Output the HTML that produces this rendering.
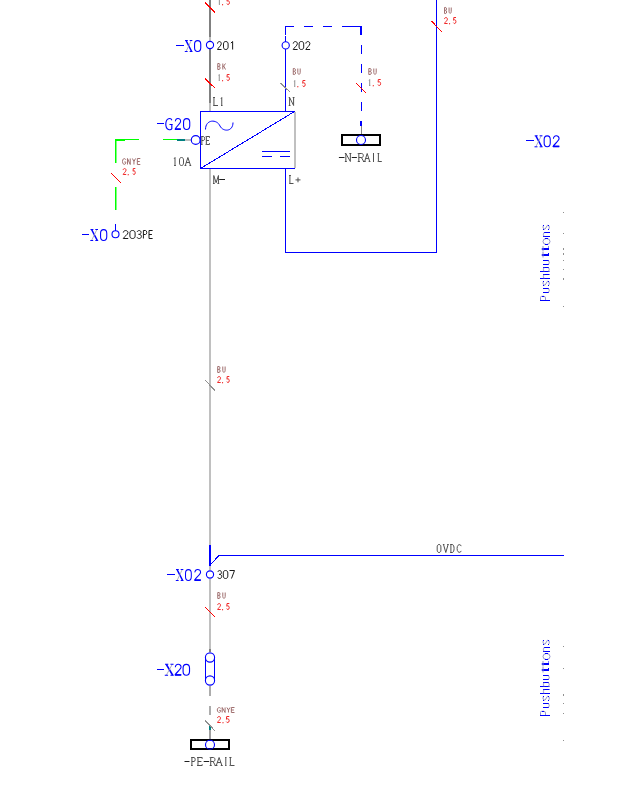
<!DOCTYPE html><html><head><meta charset="utf-8"><style>html,body{margin:0;padding:0;background:#fff;width:640px;height:792px;overflow:hidden}svg{display:block}text{white-space:pre}</style></head><body>
<svg width="640" height="792" viewBox="0 0 640 792">
<g fill="none" shape-rendering="crispEdges">
<!-- main vertical line -->
<line x1="210" y1="0" x2="210" y2="37" stroke="#808080" stroke-width="2"/>
<line x1="210" y1="37" x2="210" y2="41" stroke="#c0c0c0" stroke-width="2"/>
<line x1="210" y1="49" x2="210" y2="103" stroke="#808080" stroke-width="2"/>
<line x1="210" y1="103" x2="210" y2="111" stroke="#c0c0c0" stroke-width="2"/>
<line x1="210" y1="169" x2="210" y2="545" stroke="#c0c0c0" stroke-width="2"/>
<line x1="210" y1="545" x2="210" y2="566" stroke="#0000ff" stroke-width="2"/>
<line x1="210" y1="566" x2="210" y2="570" stroke="#c0c0c0" stroke-width="2"/>
<line x1="210" y1="579" x2="210" y2="649" stroke="#c0c0c0" stroke-width="2"/>
<line x1="210" y1="649" x2="210" y2="652" stroke="#808080" stroke-width="2"/>
<line x1="210" y1="686" x2="210" y2="696" stroke="#909090" stroke-width="1.5" shape-rendering="auto"/>
<line x1="210" y1="706" x2="210" y2="715" stroke="#909090" stroke-width="1.5" shape-rendering="auto"/>
<line x1="210" y1="725" x2="210" y2="730" stroke="#008080" stroke-width="2"/>
<line x1="210" y1="730" x2="210" y2="739" stroke="#a0a0a0" stroke-width="2"/>
<!-- box -->
<rect x="200.5" y="111.5" width="94" height="57" stroke="#0000ff" stroke-width="1"/>
<line x1="295" y1="112" x2="295" y2="168" stroke="#c0c0c0" stroke-width="2"/>
<!-- blue 202 line -->
<line x1="285.5" y1="49" x2="285.5" y2="111" stroke="#0000ff" stroke-width="1"/>
<line x1="285.5" y1="36" x2="285.5" y2="42" stroke="#0000ff" stroke-width="1"/>
<polyline points="285.5,169 285.5,252.5 436.5,252.5 436.5,0" stroke="#0000ff" stroke-width="1"/>
<!-- dashed -->
<polyline points="285.5,35 285.5,26.5 294,26.5" stroke="#0000ff" stroke-width="1"/>
<line x1="304" y1="26.5" x2="313" y2="26.5" stroke="#0000ff" stroke-width="1"/>
<line x1="323" y1="26.5" x2="332" y2="26.5" stroke="#0000ff" stroke-width="1"/>
<line x1="342" y1="26.5" x2="362" y2="26.5" stroke="#0000ff" stroke-width="1"/>
<line x1="361" y1="26" x2="361" y2="35" stroke="#0000ff" stroke-width="2"/>
<line x1="361.5" y1="45" x2="361.5" y2="54" stroke="#0000ff" stroke-width="1"/>
<line x1="361.5" y1="64" x2="361.5" y2="73" stroke="#0000ff" stroke-width="1"/>
<line x1="361.5" y1="83" x2="361.5" y2="92" stroke="#0000ff" stroke-width="1"/>
<line x1="361.5" y1="102" x2="361.5" y2="111" stroke="#0000ff" stroke-width="1"/>
<line x1="361" y1="121" x2="361" y2="126" stroke="#0000ff" stroke-width="2"/>
<line x1="361.5" y1="126" x2="361.5" y2="135" stroke="#808080" stroke-width="1"/>
<!-- N rail -->
<rect x="342" y="135" width="38" height="9.5" stroke="#000" stroke-width="2"/>
<!-- PE rail -->
<rect x="191.3" y="739.8" width="38" height="9" stroke="#000" stroke-width="2"/>
<!-- PE line -->
<line x1="163" y1="139.5" x2="177" y2="139.5" stroke="#00ff00" stroke-width="1"/>
<line x1="177" y1="140" x2="185" y2="140" stroke="#008080" stroke-width="2"/>
<line x1="185" y1="140" x2="191" y2="140" stroke="#c0c0c0" stroke-width="2"/>
<!-- green L -->
<line x1="115" y1="140" x2="125" y2="140" stroke="#00ff00" stroke-width="2"/><line x1="125" y1="139.5" x2="138.5" y2="139.5" stroke="#00ff00" stroke-width="1"/><rect x="115" y="139" width="1.5" height="24" fill="#00ff00" stroke="none" shape-rendering="auto"/>
<rect x="115" y="187" width="1.5" height="23" fill="#00ff00" stroke="none" shape-rendering="auto"/>
<line x1="115.5" y1="224" x2="115.5" y2="231" stroke="#0000ff" stroke-width="1"/>
<!-- DC symbol -->
<line x1="262" y1="151.5" x2="290" y2="151.5" stroke="#0000ff" stroke-width="1"/>
<line x1="262" y1="156.5" x2="272" y2="156.5" stroke="#0000ff" stroke-width="1"/>
<line x1="280" y1="156.5" x2="290" y2="156.5" stroke="#0000ff" stroke-width="1"/>
<!-- 0VDC -->
<line x1="219" y1="555.5" x2="564" y2="555.5" stroke="#0000ff" stroke-width="1"/>
<!-- X20 capsule lines -->
<line x1="205.5" y1="657.5" x2="205.5" y2="680.5" stroke="#0000ff" stroke-width="1"/>
<line x1="214.5" y1="657.5" x2="214.5" y2="680.5" stroke="#0000ff" stroke-width="1"/>
</g>
<g fill="none">
<!-- diagonal -->
<line x1="200.5" y1="168.5" x2="294.5" y2="111.5" stroke="#0000ff" stroke-width="1" shape-rendering="crispEdges"/>
<line x1="211" y1="564" x2="219" y2="555.5" stroke="#0000ff" stroke-width="1" shape-rendering="crispEdges"/>
<!-- sine -->
<path d="M205.5,129.5 C205.5,119 217,119 220,126 C223,132 233,132 233,122.5" stroke="#0000ff" stroke-width="1"/>
<!-- circles -->
<circle cx="210" cy="45" r="3.6" stroke="#0000ff" stroke-width="1.1"/>
<circle cx="285.7" cy="45.4" r="3.6" stroke="#0000ff" stroke-width="1.1"/>
<circle cx="195.7" cy="140" r="4.4" stroke="#0000ff" stroke-width="1.1"/>
<circle cx="361" cy="140" r="4.5" stroke="#0000ff" stroke-width="1.1"/>
<circle cx="115.5" cy="234.3" r="3.5" stroke="#0000ff" stroke-width="1.1"/>
<circle cx="210" cy="574.5" r="3.6" stroke="#0000ff" stroke-width="1.1"/>
<circle cx="210" cy="657.5" r="4.6" stroke="#0000ff" stroke-width="1.1"/>
<circle cx="210" cy="680.5" r="4.6" stroke="#0000ff" stroke-width="1.1"/>
<circle cx="210" cy="744.8" r="4.5" stroke="#0000ff" stroke-width="1.1"/>
<!-- slashes -->
<g shape-rendering="crispEdges" stroke-width="1.2">
<line x1="205" y1="2.5" x2="215" y2="12.5" stroke="#ff0000"/>
<line x1="205" y1="78.5" x2="215" y2="88" stroke="#ff0000"/>
<line x1="280.5" y1="83" x2="290.5" y2="92.5" stroke="#909090"/>
<line x1="356" y1="83" x2="366" y2="93" stroke="#ff0000"/>
<line x1="431.3" y1="21" x2="441.5" y2="31.6" stroke="#ff0000"/>
<line x1="111" y1="173" x2="120.6" y2="182.5" stroke="#ff0000"/>
<line x1="205.2" y1="380" x2="215" y2="390.5" stroke="#909090"/>
<line x1="205" y1="607" x2="215" y2="617" stroke="#ff0000"/>
<line x1="205.2" y1="720.3" x2="214.8" y2="730.9" stroke="#909090"/>
</g>
</g>

<g fill="#909090">
<rect x="563" y="212" width="1" height="1"/><rect x="563" y="233" width="1" height="1"/><rect x="563" y="248" width="1" height="2"/><rect x="563" y="253" width="1" height="2"/><rect x="563" y="260" width="1" height="1"/><rect x="563" y="269" width="1" height="1"/><rect x="563" y="278" width="1" height="2"/><rect x="563" y="306" width="1" height="1"/>
<rect x="563" y="646" width="1" height="1"/><rect x="563" y="668" width="1" height="1"/><rect x="563" y="694" width="1" height="2"/><rect x="563" y="703" width="1" height="1"/><rect x="563" y="713" width="1" height="1"/><rect x="563" y="740" width="1" height="1"/>
</g>

<g transform="translate(185.00,40.00) scale(0.938,1.000)" fill="none" stroke="#0000ff"><path d="M1.2,0.6 L7,11.4" stroke-width="1.5"/><path d="M6.6,0.6 L1.2,11.4" stroke-width="0.8" stroke="#a0a0b0"/><path d="M0,0.5 H3 M5,0.5 H7.8 M-0.2,11.5 H2.8 M5,11.5 H8" stroke-width="1"/></g>
<g transform="translate(194.00,40.00) scale(0.938,1.000)" fill="none" stroke="#0000ff"><path d="M3.9,0.55 C6.4,0.55 7.2,2.2 7.2,4.2 V7.8 C7.2,9.8 6.4,11.45 3.9,11.45 C1.4,11.45 0.6,9.8 0.6,7.8 V4.2 C0.6,2.2 1.4,0.55 3.9,0.55 Z" stroke-width="1.15"/></g>
<line x1="176" y1="45.5" x2="184" y2="45.5" stroke="#0000ff" stroke-width="1" shape-rendering="crispEdges"/>
<g transform="translate(165.00,118.00) scale(0.975,1.000)" fill="none" stroke="#0000ff"><path d="M7,2.2 C6.2,-0.3 1,-0.6 0.8,6 C0.8,12.6 6,12.4 7,10.6 V6.6 M4.6,6.5 H7.9" stroke-width="1.15"/></g>
<g transform="translate(174.50,118.00) scale(0.875,1.000)" fill="none" stroke="#0000ff"><path d="M1,3.4 C0.8,-0.3 7,-0.6 7,3.3 C7,5.6 2,8.6 0.8,11 L7.2,11" stroke-width="1.15"/><path d="M0.6,11.2 H7.2" stroke-width="1.6"/></g>
<g transform="translate(183.00,118.00) scale(0.938,1.000)" fill="none" stroke="#0000ff"><path d="M3.9,0.55 C6.4,0.55 7.2,2.2 7.2,4.2 V7.8 C7.2,9.8 6.4,11.45 3.9,11.45 C1.4,11.45 0.6,9.8 0.6,7.8 V4.2 C0.6,2.2 1.4,0.55 3.9,0.55 Z" stroke-width="1.15"/></g>
<line x1="156.6" y1="123.5" x2="163.6" y2="123.5" stroke="#0000ff" stroke-width="1" shape-rendering="crispEdges"/>
<g transform="translate(90.50,229.00) scale(0.963,1.000)" fill="none" stroke="#0000ff"><path d="M1.2,0.6 L7,11.4" stroke-width="1.5"/><path d="M6.6,0.6 L1.2,11.4" stroke-width="0.8" stroke="#a0a0b0"/><path d="M0,0.5 H3 M5,0.5 H7.8 M-0.2,11.5 H2.8 M5,11.5 H8" stroke-width="1"/></g>
<g transform="translate(100.00,229.00) scale(0.938,1.000)" fill="none" stroke="#0000ff"><path d="M3.9,0.55 C6.4,0.55 7.2,2.2 7.2,4.2 V7.8 C7.2,9.8 6.4,11.45 3.9,11.45 C1.4,11.45 0.6,9.8 0.6,7.8 V4.2 C0.6,2.2 1.4,0.55 3.9,0.55 Z" stroke-width="1.15"/></g>
<line x1="81.7" y1="234.5" x2="88.75" y2="234.5" stroke="#0000ff" stroke-width="1" shape-rendering="crispEdges"/>
<g transform="translate(534.70,135.30) scale(0.987,1.000)" fill="none" stroke="#0000ff"><path d="M1.2,0.6 L7,11.4" stroke-width="1.5"/><path d="M6.6,0.6 L1.2,11.4" stroke-width="0.8" stroke="#a0a0b0"/><path d="M0,0.5 H3 M5,0.5 H7.8 M-0.2,11.5 H2.8 M5,11.5 H8" stroke-width="1"/></g>
<g transform="translate(543.60,135.30) scale(0.925,1.000)" fill="none" stroke="#0000ff"><path d="M3.9,0.55 C6.4,0.55 7.2,2.2 7.2,4.2 V7.8 C7.2,9.8 6.4,11.45 3.9,11.45 C1.4,11.45 0.6,9.8 0.6,7.8 V4.2 C0.6,2.2 1.4,0.55 3.9,0.55 Z" stroke-width="1.15"/></g>
<g transform="translate(552.50,135.30) scale(0.938,1.000)" fill="none" stroke="#0000ff"><path d="M1,3.4 C0.8,-0.3 7,-0.6 7,3.3 C7,5.6 2,8.6 0.8,11 L7.2,11" stroke-width="1.15"/><path d="M0.6,11.2 H7.2" stroke-width="1.6"/></g>
<line x1="526" y1="140.5" x2="533.7" y2="140.5" stroke="#0000ff" stroke-width="1" shape-rendering="crispEdges"/>
<g transform="translate(176.00,569.00) scale(0.938,1.000)" fill="none" stroke="#0000ff"><path d="M1.2,0.6 L7,11.4" stroke-width="1.5"/><path d="M6.6,0.6 L1.2,11.4" stroke-width="0.8" stroke="#a0a0b0"/><path d="M0,0.5 H3 M5,0.5 H7.8 M-0.2,11.5 H2.8 M5,11.5 H8" stroke-width="1"/></g>
<g transform="translate(185.00,569.00) scale(0.875,1.000)" fill="none" stroke="#0000ff"><path d="M3.9,0.55 C6.4,0.55 7.2,2.2 7.2,4.2 V7.8 C7.2,9.8 6.4,11.45 3.9,11.45 C1.4,11.45 0.6,9.8 0.6,7.8 V4.2 C0.6,2.2 1.4,0.55 3.9,0.55 Z" stroke-width="1.15"/></g>
<g transform="translate(194.00,569.00) scale(0.938,1.000)" fill="none" stroke="#0000ff"><path d="M1,3.4 C0.8,-0.3 7,-0.6 7,3.3 C7,5.6 2,8.6 0.8,11 L7.2,11" stroke-width="1.15"/><path d="M0.6,11.2 H7.2" stroke-width="1.6"/></g>
<line x1="166.8" y1="574.5" x2="175" y2="574.5" stroke="#0000ff" stroke-width="1" shape-rendering="crispEdges"/>
<g transform="translate(165.00,663.80) scale(1.094,1.000)" fill="none" stroke="#0000ff"><path d="M1.2,0.6 L7,11.4" stroke-width="1.5"/><path d="M6.6,0.6 L1.2,11.4" stroke-width="0.8" stroke="#a0a0b0"/><path d="M0,0.5 H3 M5,0.5 H7.8 M-0.2,11.5 H2.8 M5,11.5 H8" stroke-width="1"/></g>
<g transform="translate(174.40,663.80) scale(0.950,1.000)" fill="none" stroke="#0000ff"><path d="M1,3.4 C0.8,-0.3 7,-0.6 7,3.3 C7,5.6 2,8.6 0.8,11 L7.2,11" stroke-width="1.15"/><path d="M0.6,11.2 H7.2" stroke-width="1.6"/></g>
<g transform="translate(182.50,663.80) scale(0.975,1.000)" fill="none" stroke="#0000ff"><path d="M3.9,0.55 C6.4,0.55 7.2,2.2 7.2,4.2 V7.8 C7.2,9.8 6.4,11.45 3.9,11.45 C1.4,11.45 0.6,9.8 0.6,7.8 V4.2 C0.6,2.2 1.4,0.55 3.9,0.55 Z" stroke-width="1.15"/></g>
<line x1="156.9" y1="669.5" x2="163.75" y2="669.5" stroke="#0000ff" stroke-width="1" shape-rendering="crispEdges"/>
<g transform="translate(0,0)" shape-rendering="auto"><rect x="540" y="300" width="10" height="1" fill="#0000ff"/><path d="M540.5,300 V297.5 Q540.5,296.3 541.8,296.3 H543.8 Q545.5,296.3 545.5,298 V300" stroke="#8a8ac8" stroke-width="0.9" fill="none"/><rect x="542" y="296" width="2" height="1" fill="#0000ff"/><rect x="543" y="292" width="6" height="1" fill="#0000ff"/><rect x="543" y="288" width="6" height="1" fill="#0000ff"/><path d="M548.5,292.5 Q550,290.5 548.5,288.5" stroke="#8a8ac8" stroke-width="0.9" fill="none"/><path d="M544,281.2 Q543,281.2 543,283.2 Q543,285.2 545,285.2 L547.5,281.2 Q549.3,281.2 549.3,283.2 Q549.3,285.2 548.5,285.2" stroke="#8a8ac8" stroke-width="0.9" fill="none"/><rect x="543" y="281" width="1" height="1" fill="#0000ff"/><rect x="548" y="281" width="1" height="1" fill="#0000ff"/><rect x="543" y="285" width="1" height="1" fill="#0000ff"/><rect x="548" y="285" width="1" height="1" fill="#0000ff"/><rect x="540" y="278" width="10" height="1" fill="#0000ff"/><rect x="543" y="274" width="6.5" height="1" fill="#0000ff"/><path d="M544,278.5 Q542.8,276.5 544,274.5" stroke="#8a8ac8" stroke-width="0.9" fill="none"/><rect x="540" y="271" width="9.5" height="1" fill="#0000ff"/><rect x="543" y="267" width="6" height="1" fill="#0000ff"/><path d="M544,271.5 Q542.8,269.5 544,267.5" stroke="#8a8ac8" stroke-width="0.9" fill="none"/><path d="M548.5,271.5 Q550,269.5 548.5,267.5" stroke="#8a8ac8" stroke-width="0.9" fill="none"/><rect x="543" y="264" width="6" height="1" fill="#0000ff"/><rect x="543" y="260" width="6" height="1" fill="#0000ff"/><path d="M548.5,264.5 Q550,262.5 548.5,260.5" stroke="#8a8ac8" stroke-width="0.9" fill="none"/><rect x="541.8" y="254" width="7.2" height="2" fill="#0000ff"/><path d="M543,252 V257.5" stroke="#8a8ac8" stroke-width="0.9" fill="none"/><rect x="548" y="253" width="1" height="1" fill="#0000ff"/><rect x="541.8" y="248" width="7.2" height="2" fill="#0000ff"/><path d="M543,246 V251.5" stroke="#8a8ac8" stroke-width="0.9" fill="none"/><rect x="548" y="246.5" width="1" height="1" fill="#0000ff"/><path d="M546.5,238.5 Q543,238.5 543,241.5 Q543,244.5 546.5,244.5 Q550,244.5 550,241.5 Q550,238.5 546.5,238.5" stroke="#8a8ac8" stroke-width="0.9" fill="none"/><rect x="545" y="238" width="3" height="1" fill="#0000ff"/><rect x="545" y="244" width="3" height="1" fill="#0000ff"/><rect x="543" y="236" width="7" height="1" fill="#0000ff"/><rect x="544" y="232" width="6" height="1" fill="#0000ff"/><path d="M544,236.5 Q542.8,234.5 544,232.5" stroke="#8a8ac8" stroke-width="0.9" fill="none"/><path d="M544,225.2 Q543,225.2 543,227.2 Q543,229.2 545,229.2 L547.5,225.2 Q549.3,225.2 549.3,227.2 Q549.3,229.2 548.5,229.2" stroke="#8a8ac8" stroke-width="0.9" fill="none"/><rect x="543" y="225" width="1" height="1" fill="#0000ff"/><rect x="548" y="225" width="1" height="1" fill="#0000ff"/><rect x="543" y="229" width="1" height="1" fill="#0000ff"/><rect x="548" y="229" width="1" height="1" fill="#0000ff"/></g><g transform="translate(0,415)" shape-rendering="auto"><rect x="540" y="300" width="10" height="1" fill="#0000ff"/><path d="M540.5,300 V297.5 Q540.5,296.3 541.8,296.3 H543.8 Q545.5,296.3 545.5,298 V300" stroke="#8a8ac8" stroke-width="0.9" fill="none"/><rect x="542" y="296" width="2" height="1" fill="#0000ff"/><rect x="543" y="292" width="6" height="1" fill="#0000ff"/><rect x="543" y="288" width="6" height="1" fill="#0000ff"/><path d="M548.5,292.5 Q550,290.5 548.5,288.5" stroke="#8a8ac8" stroke-width="0.9" fill="none"/><path d="M544,281.2 Q543,281.2 543,283.2 Q543,285.2 545,285.2 L547.5,281.2 Q549.3,281.2 549.3,283.2 Q549.3,285.2 548.5,285.2" stroke="#8a8ac8" stroke-width="0.9" fill="none"/><rect x="543" y="281" width="1" height="1" fill="#0000ff"/><rect x="548" y="281" width="1" height="1" fill="#0000ff"/><rect x="543" y="285" width="1" height="1" fill="#0000ff"/><rect x="548" y="285" width="1" height="1" fill="#0000ff"/><rect x="540" y="278" width="10" height="1" fill="#0000ff"/><rect x="543" y="274" width="6.5" height="1" fill="#0000ff"/><path d="M544,278.5 Q542.8,276.5 544,274.5" stroke="#8a8ac8" stroke-width="0.9" fill="none"/><rect x="540" y="271" width="9.5" height="1" fill="#0000ff"/><rect x="543" y="267" width="6" height="1" fill="#0000ff"/><path d="M544,271.5 Q542.8,269.5 544,267.5" stroke="#8a8ac8" stroke-width="0.9" fill="none"/><path d="M548.5,271.5 Q550,269.5 548.5,267.5" stroke="#8a8ac8" stroke-width="0.9" fill="none"/><rect x="543" y="264" width="6" height="1" fill="#0000ff"/><rect x="543" y="260" width="6" height="1" fill="#0000ff"/><path d="M548.5,264.5 Q550,262.5 548.5,260.5" stroke="#8a8ac8" stroke-width="0.9" fill="none"/><rect x="541.8" y="254" width="7.2" height="2" fill="#0000ff"/><path d="M543,252 V257.5" stroke="#8a8ac8" stroke-width="0.9" fill="none"/><rect x="548" y="253" width="1" height="1" fill="#0000ff"/><rect x="541.8" y="248" width="7.2" height="2" fill="#0000ff"/><path d="M543,246 V251.5" stroke="#8a8ac8" stroke-width="0.9" fill="none"/><rect x="548" y="246.5" width="1" height="1" fill="#0000ff"/><path d="M546.5,238.5 Q543,238.5 543,241.5 Q543,244.5 546.5,244.5 Q550,244.5 550,241.5 Q550,238.5 546.5,238.5" stroke="#8a8ac8" stroke-width="0.9" fill="none"/><rect x="545" y="238" width="3" height="1" fill="#0000ff"/><rect x="545" y="244" width="3" height="1" fill="#0000ff"/><rect x="543" y="236" width="7" height="1" fill="#0000ff"/><rect x="544" y="232" width="6" height="1" fill="#0000ff"/><path d="M544,236.5 Q542.8,234.5 544,232.5" stroke="#8a8ac8" stroke-width="0.9" fill="none"/><path d="M544,225.2 Q543,225.2 543,227.2 Q543,229.2 545,229.2 L547.5,225.2 Q549.3,225.2 549.3,227.2 Q549.3,229.2 548.5,229.2" stroke="#8a8ac8" stroke-width="0.9" fill="none"/><rect x="543" y="225" width="1" height="1" fill="#0000ff"/><rect x="548" y="225" width="1" height="1" fill="#0000ff"/><rect x="543" y="229" width="1" height="1" fill="#0000ff"/><rect x="548" y="229" width="1" height="1" fill="#0000ff"/></g>
<g transform="translate(213.50,97.50) scale(0.7500,0.8000)" stroke="#505050" stroke-width="1.0" fill="none" vector-effect="non-scaling-stroke" style="vector-effect:non-scaling-stroke"><path vector-effect="non-scaling-stroke" d="M0.6,0 V10 H6"/><path vector-effect="non-scaling-stroke" d="M-0.3,0 H1.8"/><path vector-effect="non-scaling-stroke" d="M-0.4,0 H1.8"/><path vector-effect="non-scaling-stroke" d="M-0.4,10 H0.6"/></g><g transform="translate(220.50,97.50) scale(0.4167,0.8000)" stroke="#505050" stroke-width="1.0" fill="none" vector-effect="non-scaling-stroke" style="vector-effect:non-scaling-stroke"><path vector-effect="non-scaling-stroke" d="M3,0 V10"/><path vector-effect="non-scaling-stroke" d="M1.2,10 H4.8"/><path vector-effect="non-scaling-stroke" d="M3,0 L1.3,1.6"/></g>
<g transform="translate(289.20,97.50) scale(0.8000,0.8000)" stroke="#505050" stroke-width="1.0" fill="none" vector-effect="non-scaling-stroke" style="vector-effect:non-scaling-stroke"><path vector-effect="non-scaling-stroke" d="M0.5,10 V0 L5.5,10 V0"/><path vector-effect="non-scaling-stroke" d="M-0.6,0 H0.8"/><path vector-effect="non-scaling-stroke" d="M-0.6,10 H1.6"/><path vector-effect="non-scaling-stroke" d="M4.4,0 H6.6"/></g>
<g transform="translate(173.50,157.50) scale(0.5000,0.8000)" stroke="#505050" stroke-width="1.0" fill="none" vector-effect="non-scaling-stroke" style="vector-effect:non-scaling-stroke"><path vector-effect="non-scaling-stroke" d="M3,0 V10"/><path vector-effect="non-scaling-stroke" d="M1.2,10 H4.8"/><path vector-effect="non-scaling-stroke" d="M3,0 L1.3,1.6"/></g><g transform="translate(179.50,157.50) scale(0.6667,0.8000)" stroke="#505050" stroke-width="1.0" fill="none" vector-effect="non-scaling-stroke" style="vector-effect:non-scaling-stroke"><path vector-effect="non-scaling-stroke" d="M3,0 C5.4,0 6,1.6 6,3.2 V6.8 C6,8.4 5.4,10 3,10 C0.6,10 0,8.4 0,6.8 V3.2 C0,1.6 0.6,0 3,0 Z"/></g><g transform="translate(185.30,157.50) scale(0.8667,0.8000)" stroke="#505050" stroke-width="1.0" fill="none" vector-effect="non-scaling-stroke" style="vector-effect:non-scaling-stroke"><path vector-effect="non-scaling-stroke" d="M0,10 L3,0 L6,10"/><path vector-effect="non-scaling-stroke" d="M1.1,6.3 H4.9"/><path vector-effect="non-scaling-stroke" d="M-0.8,10 H1.2"/><path vector-effect="non-scaling-stroke" d="M4.8,10 H6.8"/></g>
<g transform="translate(213.50,175.50) scale(0.8667,0.8000)" stroke="#505050" stroke-width="1.0" fill="none" vector-effect="non-scaling-stroke" style="vector-effect:non-scaling-stroke"><path vector-effect="non-scaling-stroke" d="M0.3,10 V0 L3,9 L5.7,0 V10"/><path vector-effect="non-scaling-stroke" d="M-0.6,10 H1.4"/><path vector-effect="non-scaling-stroke" d="M4.6,10 H6.6"/></g><line x1="219.20" y1="179.5" x2="225.00" y2="179.5" stroke="#202020" stroke-width="1"/>
<g transform="translate(289.50,175.50) scale(0.6667,0.8000)" stroke="#505050" stroke-width="1.0" fill="none" vector-effect="non-scaling-stroke" style="vector-effect:non-scaling-stroke"><path vector-effect="non-scaling-stroke" d="M0.6,0 V10 H6"/><path vector-effect="non-scaling-stroke" d="M-0.3,0 H1.8"/><path vector-effect="non-scaling-stroke" d="M-0.4,0 H1.8"/><path vector-effect="non-scaling-stroke" d="M-0.4,10 H0.6"/></g><g transform="translate(295.50,175.50) scale(0.8333,0.8000)" stroke="#505050" stroke-width="1.0" fill="none" vector-effect="non-scaling-stroke" style="vector-effect:non-scaling-stroke"><path vector-effect="non-scaling-stroke" d="M0,5.5 H6"/><path vector-effect="non-scaling-stroke" d="M3,2.5 V8.5"/></g>
<g transform="translate(201.50,136.50) scale(0.5500,0.8000)" stroke="#505050" stroke-width="1.0" fill="none" vector-effect="non-scaling-stroke" style="vector-effect:non-scaling-stroke"><path vector-effect="non-scaling-stroke" d="M0.6,10 V0 H3.8 C6.2,0 6.2,5 3.8,5 H0.6"/><path vector-effect="non-scaling-stroke" d="M-0.6,10 H1.8"/><path vector-effect="non-scaling-stroke" d="M-0.6,0 H0.6"/></g><g transform="translate(206.00,136.50) scale(0.5833,0.8000)" stroke="#505050" stroke-width="1.0" fill="none" vector-effect="non-scaling-stroke" style="vector-effect:non-scaling-stroke"><path vector-effect="non-scaling-stroke" d="M6,0 H0.6 V10 H6"/><path vector-effect="non-scaling-stroke" d="M0.6,5 H5"/><path vector-effect="non-scaling-stroke" d="M6,0 V1.6"/><path vector-effect="non-scaling-stroke" d="M6,10 V8.4"/><path vector-effect="non-scaling-stroke" d="M-0.6,0 H0.6"/><path vector-effect="non-scaling-stroke" d="M-0.6,10 H0.6"/></g>
<line x1="338.90" y1="157.5" x2="344.50" y2="157.5" stroke="#202020" stroke-width="1"/><g transform="translate(345.40,153.50) scale(0.9000,0.8000)" stroke="#505050" stroke-width="1.0" fill="none" vector-effect="non-scaling-stroke" style="vector-effect:non-scaling-stroke"><path vector-effect="non-scaling-stroke" d="M0.5,10 V0 L5.5,10 V0"/><path vector-effect="non-scaling-stroke" d="M-0.6,0 H0.8"/><path vector-effect="non-scaling-stroke" d="M-0.6,10 H1.6"/><path vector-effect="non-scaling-stroke" d="M4.4,0 H6.6"/></g><line x1="351.75" y1="157.5" x2="356.90" y2="157.5" stroke="#202020" stroke-width="1"/><g transform="translate(358.30,153.50) scale(0.9000,0.8000)" stroke="#505050" stroke-width="1.0" fill="none" vector-effect="non-scaling-stroke" style="vector-effect:non-scaling-stroke"><path vector-effect="non-scaling-stroke" d="M0.6,10 V0 H3.8 C6.2,0 6.2,5 3.8,5 H0.6"/><path vector-effect="non-scaling-stroke" d="M3.4,5 L6,10"/><path vector-effect="non-scaling-stroke" d="M-0.6,10 H1.8"/><path vector-effect="non-scaling-stroke" d="M-0.6,0 H0.6"/><path vector-effect="non-scaling-stroke" d="M5.2,10 H6.8"/></g><g transform="translate(364.70,153.50) scale(0.8333,0.8000)" stroke="#505050" stroke-width="1.0" fill="none" vector-effect="non-scaling-stroke" style="vector-effect:non-scaling-stroke"><path vector-effect="non-scaling-stroke" d="M0,10 L3,0 L6,10"/><path vector-effect="non-scaling-stroke" d="M1.1,6.3 H4.9"/><path vector-effect="non-scaling-stroke" d="M-0.8,10 H1.2"/><path vector-effect="non-scaling-stroke" d="M4.8,10 H6.8"/></g><g transform="translate(372.50,153.50) scale(0.3333,0.8000)" stroke="#505050" stroke-width="1.0" fill="none" vector-effect="non-scaling-stroke" style="vector-effect:non-scaling-stroke"><path vector-effect="non-scaling-stroke" d="M3,0 V10"/><path vector-effect="non-scaling-stroke" d="M1.5,0 H4.5"/><path vector-effect="non-scaling-stroke" d="M1.5,10 H4.5"/></g><g transform="translate(378.00,153.50) scale(0.6333,0.8000)" stroke="#505050" stroke-width="1.0" fill="none" vector-effect="non-scaling-stroke" style="vector-effect:non-scaling-stroke"><path vector-effect="non-scaling-stroke" d="M0.6,0 V10 H6"/><path vector-effect="non-scaling-stroke" d="M-0.3,0 H1.8"/><path vector-effect="non-scaling-stroke" d="M-0.4,0 H1.8"/><path vector-effect="non-scaling-stroke" d="M-0.4,10 H0.6"/></g>
<line x1="184.50" y1="761.5" x2="189.50" y2="761.5" stroke="#202020" stroke-width="1"/><g transform="translate(191.50,757.50) scale(0.6667,0.8000)" stroke="#505050" stroke-width="1.0" fill="none" vector-effect="non-scaling-stroke" style="vector-effect:non-scaling-stroke"><path vector-effect="non-scaling-stroke" d="M0.6,10 V0 H3.8 C6.2,0 6.2,5 3.8,5 H0.6"/><path vector-effect="non-scaling-stroke" d="M-0.6,10 H1.8"/><path vector-effect="non-scaling-stroke" d="M-0.6,0 H0.6"/></g><g transform="translate(197.50,757.50) scale(0.7833,0.8000)" stroke="#505050" stroke-width="1.0" fill="none" vector-effect="non-scaling-stroke" style="vector-effect:non-scaling-stroke"><path vector-effect="non-scaling-stroke" d="M6,0 H0.6 V10 H6"/><path vector-effect="non-scaling-stroke" d="M0.6,5 H5"/><path vector-effect="non-scaling-stroke" d="M6,0 V1.6"/><path vector-effect="non-scaling-stroke" d="M6,10 V8.4"/><path vector-effect="non-scaling-stroke" d="M-0.6,0 H0.6"/><path vector-effect="non-scaling-stroke" d="M-0.6,10 H0.6"/></g><line x1="203.70" y1="761.5" x2="209.20" y2="761.5" stroke="#202020" stroke-width="1"/><g transform="translate(210.20,757.50) scale(0.8500,0.8000)" stroke="#505050" stroke-width="1.0" fill="none" vector-effect="non-scaling-stroke" style="vector-effect:non-scaling-stroke"><path vector-effect="non-scaling-stroke" d="M0.6,10 V0 H3.8 C6.2,0 6.2,5 3.8,5 H0.6"/><path vector-effect="non-scaling-stroke" d="M3.4,5 L6,10"/><path vector-effect="non-scaling-stroke" d="M-0.6,10 H1.8"/><path vector-effect="non-scaling-stroke" d="M-0.6,0 H0.6"/><path vector-effect="non-scaling-stroke" d="M5.2,10 H6.8"/></g><g transform="translate(216.30,757.50) scale(0.9333,0.8000)" stroke="#505050" stroke-width="1.0" fill="none" vector-effect="non-scaling-stroke" style="vector-effect:non-scaling-stroke"><path vector-effect="non-scaling-stroke" d="M0,10 L3,0 L6,10"/><path vector-effect="non-scaling-stroke" d="M1.1,6.3 H4.9"/><path vector-effect="non-scaling-stroke" d="M-0.8,10 H1.2"/><path vector-effect="non-scaling-stroke" d="M4.8,10 H6.8"/></g><g transform="translate(224.50,757.50) scale(0.4333,0.8000)" stroke="#505050" stroke-width="1.0" fill="none" vector-effect="non-scaling-stroke" style="vector-effect:non-scaling-stroke"><path vector-effect="non-scaling-stroke" d="M3,0 V10"/><path vector-effect="non-scaling-stroke" d="M1.5,0 H4.5"/><path vector-effect="non-scaling-stroke" d="M1.5,10 H4.5"/></g><g transform="translate(229.90,757.50) scale(0.7667,0.8000)" stroke="#505050" stroke-width="1.0" fill="none" vector-effect="non-scaling-stroke" style="vector-effect:non-scaling-stroke"><path vector-effect="non-scaling-stroke" d="M0.6,0 V10 H6"/><path vector-effect="non-scaling-stroke" d="M-0.3,0 H1.8"/><path vector-effect="non-scaling-stroke" d="M-0.4,0 H1.8"/><path vector-effect="non-scaling-stroke" d="M-0.4,10 H0.6"/></g>
<g transform="translate(437.20,544.50) scale(0.6167,0.8000)" stroke="#505050" stroke-width="1.0" fill="none" vector-effect="non-scaling-stroke" style="vector-effect:non-scaling-stroke"><path vector-effect="non-scaling-stroke" d="M3,0 C5.4,0 6,1.6 6,3.2 V6.8 C6,8.4 5.4,10 3,10 C0.6,10 0,8.4 0,6.8 V3.2 C0,1.6 0.6,0 3,0 Z"/></g><g transform="translate(443.50,544.50) scale(0.7667,0.8000)" stroke="#505050" stroke-width="1.0" fill="none" vector-effect="non-scaling-stroke" style="vector-effect:non-scaling-stroke"><path vector-effect="non-scaling-stroke" d="M0,0 L3,10 L6,0"/><path vector-effect="non-scaling-stroke" d="M-0.8,0 H1.2"/><path vector-effect="non-scaling-stroke" d="M4.8,0 H6.8"/></g><g transform="translate(450.50,544.50) scale(0.6667,0.8000)" stroke="#505050" stroke-width="1.0" fill="none" vector-effect="non-scaling-stroke" style="vector-effect:non-scaling-stroke"><path vector-effect="non-scaling-stroke" d="M0.6,0 V10 H2.6 C6.3,10 6.3,0 2.6,0 Z"/><path vector-effect="non-scaling-stroke" d="M-0.6,0 H0.6"/><path vector-effect="non-scaling-stroke" d="M-0.6,10 H0.6"/></g><g transform="translate(457.10,544.50) scale(0.6833,0.8000)" stroke="#505050" stroke-width="1.0" fill="none" vector-effect="non-scaling-stroke" style="vector-effect:non-scaling-stroke"><path vector-effect="non-scaling-stroke" d="M6,2 C5.2,-0.6 0,-1 0,5 C0,11 5.2,10.6 6,8"/></g>
<g transform="translate(217.50,63.50) scale(0.4667,0.6000)" stroke="#a07070" stroke-width="1.0" fill="none" vector-effect="non-scaling-stroke" style="vector-effect:non-scaling-stroke"><path vector-effect="non-scaling-stroke" d="M0.6,10 V0 H3.6 C5.8,0 5.8,4.8 3.6,4.8 H0.6"/><path vector-effect="non-scaling-stroke" d="M3.6,4.8 C6.2,4.8 6.2,10 3.6,10 H0.6"/></g><g transform="translate(222.50,63.50) scale(0.5000,0.6000)" stroke="#a07070" stroke-width="1.0" fill="none" vector-effect="non-scaling-stroke" style="vector-effect:non-scaling-stroke"><path vector-effect="non-scaling-stroke" d="M0.6,0 V10"/><path vector-effect="non-scaling-stroke" d="M6,0 L0.6,6.2"/><path vector-effect="non-scaling-stroke" d="M2.4,4.2 L6,10"/></g>
<g transform="translate(218.50,74.50) scale(0.2500,0.6000)" stroke="#909090" stroke-width="1.0" fill="none" vector-effect="non-scaling-stroke" style="vector-effect:non-scaling-stroke"><path vector-effect="non-scaling-stroke" d="M3,0 V10"/><path vector-effect="non-scaling-stroke" d="M1.2,10 H4.8"/><path vector-effect="non-scaling-stroke" d="M3,0 L1.3,1.6"/></g><g transform="translate(222.50,74.50) scale(0.0833,0.6000)" stroke="#f02828" stroke-width="1.0" fill="none" vector-effect="non-scaling-stroke" style="vector-effect:non-scaling-stroke"><path vector-effect="non-scaling-stroke" d="M1.6,9.2 L0.8,11.4"/></g><g transform="translate(226.70,74.50) scale(0.5000,0.6000)" stroke="#f02828" stroke-width="1.0" fill="none" vector-effect="non-scaling-stroke" style="vector-effect:non-scaling-stroke"><path vector-effect="non-scaling-stroke" d="M5.6,0 H1 L0.6,4.6 C1.4,4 2.2,3.8 3,3.8 C6.3,3.8 6.3,10 3,10 C1.6,10 0.7,9.4 0.3,8.6"/></g>
<g transform="translate(218.70,-1.50) scale(0.2167,0.6000)" stroke="#909090" stroke-width="1.0" fill="none" vector-effect="non-scaling-stroke" style="vector-effect:non-scaling-stroke"><path vector-effect="non-scaling-stroke" d="M3,0 V10"/><path vector-effect="non-scaling-stroke" d="M1.2,10 H4.8"/><path vector-effect="non-scaling-stroke" d="M3,0 L1.3,1.6"/></g><g transform="translate(222.50,-1.50) scale(0.0833,0.6000)" stroke="#f02828" stroke-width="1.0" fill="none" vector-effect="non-scaling-stroke" style="vector-effect:non-scaling-stroke"><path vector-effect="non-scaling-stroke" d="M1.6,9.2 L0.8,11.4"/></g><g transform="translate(226.70,-1.50) scale(0.5000,0.6000)" stroke="#f02828" stroke-width="1.0" fill="none" vector-effect="non-scaling-stroke" style="vector-effect:non-scaling-stroke"><path vector-effect="non-scaling-stroke" d="M5.6,0 H1 L0.6,4.6 C1.4,4 2.2,3.8 3,3.8 C6.3,3.8 6.3,10 3,10 C1.6,10 0.7,9.4 0.3,8.6"/></g>
<g transform="translate(293.00,68.50) scale(0.4500,0.6000)" stroke="#a07070" stroke-width="1.0" fill="none" vector-effect="non-scaling-stroke" style="vector-effect:non-scaling-stroke"><path vector-effect="non-scaling-stroke" d="M0.6,10 V0 H3.6 C5.8,0 5.8,4.8 3.6,4.8 H0.6"/><path vector-effect="non-scaling-stroke" d="M3.6,4.8 C6.2,4.8 6.2,10 3.6,10 H0.6"/></g><g transform="translate(297.50,68.50) scale(0.5000,0.6000)" stroke="#a07070" stroke-width="1.0" fill="none" vector-effect="non-scaling-stroke" style="vector-effect:non-scaling-stroke"><path vector-effect="non-scaling-stroke" d="M0.6,0 V6.8 C0.6,10.6 5.4,10.6 5.4,6.8 V0"/></g>
<g transform="translate(294.00,80.50) scale(0.2500,0.6000)" stroke="#909090" stroke-width="1.0" fill="none" vector-effect="non-scaling-stroke" style="vector-effect:non-scaling-stroke"><path vector-effect="non-scaling-stroke" d="M3,0 V10"/><path vector-effect="non-scaling-stroke" d="M1.2,10 H4.8"/><path vector-effect="non-scaling-stroke" d="M3,0 L1.3,1.6"/></g><g transform="translate(297.70,80.50) scale(0.1000,0.6000)" stroke="#f02828" stroke-width="1.0" fill="none" vector-effect="non-scaling-stroke" style="vector-effect:non-scaling-stroke"><path vector-effect="non-scaling-stroke" d="M1.6,9.2 L0.8,11.4"/></g><g transform="translate(302.40,80.50) scale(0.5167,0.6000)" stroke="#f02828" stroke-width="1.0" fill="none" vector-effect="non-scaling-stroke" style="vector-effect:non-scaling-stroke"><path vector-effect="non-scaling-stroke" d="M5.6,0 H1 L0.6,4.6 C1.4,4 2.2,3.8 3,3.8 C6.3,3.8 6.3,10 3,10 C1.6,10 0.7,9.4 0.3,8.6"/></g>
<g transform="translate(368.50,68.50) scale(0.5000,0.6000)" stroke="#a07070" stroke-width="1.0" fill="none" vector-effect="non-scaling-stroke" style="vector-effect:non-scaling-stroke"><path vector-effect="non-scaling-stroke" d="M0.6,10 V0 H3.6 C5.8,0 5.8,4.8 3.6,4.8 H0.6"/><path vector-effect="non-scaling-stroke" d="M3.6,4.8 C6.2,4.8 6.2,10 3.6,10 H0.6"/></g><g transform="translate(373.50,68.50) scale(0.5000,0.6000)" stroke="#a07070" stroke-width="1.0" fill="none" vector-effect="non-scaling-stroke" style="vector-effect:non-scaling-stroke"><path vector-effect="non-scaling-stroke" d="M0.6,0 V6.8 C0.6,10.6 5.4,10.6 5.4,6.8 V0"/></g>
<g transform="translate(368.70,79.50) scale(0.3333,0.6000)" stroke="#909090" stroke-width="1.0" fill="none" vector-effect="non-scaling-stroke" style="vector-effect:non-scaling-stroke"><path vector-effect="non-scaling-stroke" d="M3,0 V10"/><path vector-effect="non-scaling-stroke" d="M1.2,10 H4.8"/><path vector-effect="non-scaling-stroke" d="M3,0 L1.3,1.6"/></g><g transform="translate(373.10,79.50) scale(0.1500,0.6000)" stroke="#f02828" stroke-width="1.0" fill="none" vector-effect="non-scaling-stroke" style="vector-effect:non-scaling-stroke"><path vector-effect="non-scaling-stroke" d="M1.6,9.2 L0.8,11.4"/></g><g transform="translate(377.80,79.50) scale(0.5167,0.6000)" stroke="#f02828" stroke-width="1.0" fill="none" vector-effect="non-scaling-stroke" style="vector-effect:non-scaling-stroke"><path vector-effect="non-scaling-stroke" d="M5.6,0 H1 L0.6,4.6 C1.4,4 2.2,3.8 3,3.8 C6.3,3.8 6.3,10 3,10 C1.6,10 0.7,9.4 0.3,8.6"/></g>
<g transform="translate(444.30,7.50) scale(0.4167,0.6000)" stroke="#a07070" stroke-width="1.0" fill="none" vector-effect="non-scaling-stroke" style="vector-effect:non-scaling-stroke"><path vector-effect="non-scaling-stroke" d="M0.6,10 V0 H3.6 C5.8,0 5.8,4.8 3.6,4.8 H0.6"/><path vector-effect="non-scaling-stroke" d="M3.6,4.8 C6.2,4.8 6.2,10 3.6,10 H0.6"/></g><g transform="translate(448.80,7.50) scale(0.4500,0.6000)" stroke="#a07070" stroke-width="1.0" fill="none" vector-effect="non-scaling-stroke" style="vector-effect:non-scaling-stroke"><path vector-effect="non-scaling-stroke" d="M0.6,0 V6.8 C0.6,10.6 5.4,10.6 5.4,6.8 V0"/></g>
<g transform="translate(444.30,17.50) scale(0.5500,0.6000)" stroke="#f02828" stroke-width="1.0" fill="none" vector-effect="non-scaling-stroke" style="vector-effect:non-scaling-stroke"><path vector-effect="non-scaling-stroke" d="M0.3,2.6 C0.5,-0.8 5.7,-0.8 5.7,2.8 C5.7,5 1,8 0.3,10 H6"/></g><g transform="translate(449.50,17.50) scale(0.0833,0.6000)" stroke="#f02828" stroke-width="1.0" fill="none" vector-effect="non-scaling-stroke" style="vector-effect:non-scaling-stroke"><path vector-effect="non-scaling-stroke" d="M1.6,9.2 L0.8,11.4"/></g><g transform="translate(453.30,17.50) scale(0.4833,0.6000)" stroke="#f02828" stroke-width="1.0" fill="none" vector-effect="non-scaling-stroke" style="vector-effect:non-scaling-stroke"><path vector-effect="non-scaling-stroke" d="M5.6,0 H1 L0.6,4.6 C1.4,4 2.2,3.8 3,3.8 C6.3,3.8 6.3,10 3,10 C1.6,10 0.7,9.4 0.3,8.6"/></g>
<g transform="translate(122.50,158.50) scale(0.5333,0.6000)" stroke="#a07070" stroke-width="1.0" fill="none" vector-effect="non-scaling-stroke" style="vector-effect:non-scaling-stroke"><path vector-effect="non-scaling-stroke" d="M6,2 C5.2,-0.6 0,-1 0,5 C0,11 6,11 6,7 V5.8 H3.4"/></g><g transform="translate(127.20,158.50) scale(0.5500,0.6000)" stroke="#a07070" stroke-width="1.0" fill="none" vector-effect="non-scaling-stroke" style="vector-effect:non-scaling-stroke"><path vector-effect="non-scaling-stroke" d="M0.5,10 V0 L5.5,10 V0"/></g><g transform="translate(132.40,158.50) scale(0.5167,0.6000)" stroke="#a07070" stroke-width="1.0" fill="none" vector-effect="non-scaling-stroke" style="vector-effect:non-scaling-stroke"><path vector-effect="non-scaling-stroke" d="M0,0 L3,5 L6,0"/><path vector-effect="non-scaling-stroke" d="M3,5 V10"/></g><g transform="translate(137.00,158.50) scale(0.5500,0.6000)" stroke="#a07070" stroke-width="1.0" fill="none" vector-effect="non-scaling-stroke" style="vector-effect:non-scaling-stroke"><path vector-effect="non-scaling-stroke" d="M6,0 H0.6 V10 H6"/><path vector-effect="non-scaling-stroke" d="M0.6,5 H5"/></g>
<g transform="translate(123.00,168.50) scale(0.5333,0.6000)" stroke="#f02828" stroke-width="1.0" fill="none" vector-effect="non-scaling-stroke" style="vector-effect:non-scaling-stroke"><path vector-effect="non-scaling-stroke" d="M0.3,2.6 C0.5,-0.8 5.7,-0.8 5.7,2.8 C5.7,5 1,8 0.3,10 H6"/></g><g transform="translate(128.10,168.50) scale(0.1000,0.6000)" stroke="#f02828" stroke-width="1.0" fill="none" vector-effect="non-scaling-stroke" style="vector-effect:non-scaling-stroke"><path vector-effect="non-scaling-stroke" d="M1.6,9.2 L0.8,11.4"/></g><g transform="translate(132.80,168.50) scale(0.4500,0.6000)" stroke="#f02828" stroke-width="1.0" fill="none" vector-effect="non-scaling-stroke" style="vector-effect:non-scaling-stroke"><path vector-effect="non-scaling-stroke" d="M5.6,0 H1 L0.6,4.6 C1.4,4 2.2,3.8 3,3.8 C6.3,3.8 6.3,10 3,10 C1.6,10 0.7,9.4 0.3,8.6"/></g>
<g transform="translate(217.40,366.50) scale(0.4833,0.6000)" stroke="#a07070" stroke-width="1.0" fill="none" vector-effect="non-scaling-stroke" style="vector-effect:non-scaling-stroke"><path vector-effect="non-scaling-stroke" d="M0.6,10 V0 H3.6 C5.8,0 5.8,4.8 3.6,4.8 H0.6"/><path vector-effect="non-scaling-stroke" d="M3.6,4.8 C6.2,4.8 6.2,10 3.6,10 H0.6"/></g><g transform="translate(222.50,366.50) scale(0.4833,0.6000)" stroke="#a07070" stroke-width="1.0" fill="none" vector-effect="non-scaling-stroke" style="vector-effect:non-scaling-stroke"><path vector-effect="non-scaling-stroke" d="M0.6,0 V6.8 C0.6,10.6 5.4,10.6 5.4,6.8 V0"/></g>
<g transform="translate(217.40,376.50) scale(0.5500,0.6000)" stroke="#f02828" stroke-width="1.0" fill="none" vector-effect="non-scaling-stroke" style="vector-effect:non-scaling-stroke"><path vector-effect="non-scaling-stroke" d="M0.3,2.6 C0.5,-0.8 5.7,-0.8 5.7,2.8 C5.7,5 1,8 0.3,10 H6"/></g><g transform="translate(222.50,376.50) scale(0.0667,0.6000)" stroke="#f02828" stroke-width="1.0" fill="none" vector-effect="non-scaling-stroke" style="vector-effect:non-scaling-stroke"><path vector-effect="non-scaling-stroke" d="M1.6,9.2 L0.8,11.4"/></g><g transform="translate(226.70,376.50) scale(0.4667,0.6000)" stroke="#f02828" stroke-width="1.0" fill="none" vector-effect="non-scaling-stroke" style="vector-effect:non-scaling-stroke"><path vector-effect="non-scaling-stroke" d="M5.6,0 H1 L0.6,4.6 C1.4,4 2.2,3.8 3,3.8 C6.3,3.8 6.3,10 3,10 C1.6,10 0.7,9.4 0.3,8.6"/></g>
<g transform="translate(217.50,592.50) scale(0.4667,0.6000)" stroke="#a07070" stroke-width="1.0" fill="none" vector-effect="non-scaling-stroke" style="vector-effect:non-scaling-stroke"><path vector-effect="non-scaling-stroke" d="M0.6,10 V0 H3.6 C5.8,0 5.8,4.8 3.6,4.8 H0.6"/><path vector-effect="non-scaling-stroke" d="M3.6,4.8 C6.2,4.8 6.2,10 3.6,10 H0.6"/></g><g transform="translate(222.50,592.50) scale(0.5000,0.6000)" stroke="#a07070" stroke-width="1.0" fill="none" vector-effect="non-scaling-stroke" style="vector-effect:non-scaling-stroke"><path vector-effect="non-scaling-stroke" d="M0.6,0 V6.8 C0.6,10.6 5.4,10.6 5.4,6.8 V0"/></g>
<g transform="translate(217.50,603.50) scale(0.5333,0.6000)" stroke="#f02828" stroke-width="1.0" fill="none" vector-effect="non-scaling-stroke" style="vector-effect:non-scaling-stroke"><path vector-effect="non-scaling-stroke" d="M0.3,2.6 C0.5,-0.8 5.7,-0.8 5.7,2.8 C5.7,5 1,8 0.3,10 H6"/></g><g transform="translate(222.50,603.50) scale(0.0667,0.6000)" stroke="#f02828" stroke-width="1.0" fill="none" vector-effect="non-scaling-stroke" style="vector-effect:non-scaling-stroke"><path vector-effect="non-scaling-stroke" d="M1.6,9.2 L0.8,11.4"/></g><g transform="translate(226.50,603.50) scale(0.5000,0.6000)" stroke="#f02828" stroke-width="1.0" fill="none" vector-effect="non-scaling-stroke" style="vector-effect:non-scaling-stroke"><path vector-effect="non-scaling-stroke" d="M5.6,0 H1 L0.6,4.6 C1.4,4 2.2,3.8 3,3.8 C6.3,3.8 6.3,10 3,10 C1.6,10 0.7,9.4 0.3,8.6"/></g>
<g transform="translate(217.30,707.50) scale(0.5667,0.5000)" stroke="#a07070" stroke-width="1.0" fill="none" vector-effect="non-scaling-stroke" style="vector-effect:non-scaling-stroke"><path vector-effect="non-scaling-stroke" d="M6,2 C5.2,-0.6 0,-1 0,5 C0,11 6,11 6,7 V5.8 H3.4"/></g><g transform="translate(221.90,707.50) scale(0.5833,0.5000)" stroke="#a07070" stroke-width="1.0" fill="none" vector-effect="non-scaling-stroke" style="vector-effect:non-scaling-stroke"><path vector-effect="non-scaling-stroke" d="M0.5,10 V0 L5.5,10 V0"/></g><g transform="translate(226.90,707.50) scale(0.5167,0.5000)" stroke="#a07070" stroke-width="1.0" fill="none" vector-effect="non-scaling-stroke" style="vector-effect:non-scaling-stroke"><path vector-effect="non-scaling-stroke" d="M0,0 L3,5 L6,0"/><path vector-effect="non-scaling-stroke" d="M3,5 V10"/></g><g transform="translate(231.00,707.50) scale(0.5833,0.5000)" stroke="#a07070" stroke-width="1.0" fill="none" vector-effect="non-scaling-stroke" style="vector-effect:non-scaling-stroke"><path vector-effect="non-scaling-stroke" d="M6,0 H0.6 V10 H6"/><path vector-effect="non-scaling-stroke" d="M0.6,5 H5"/></g>
<g transform="translate(217.30,716.50) scale(0.5667,0.6000)" stroke="#f02828" stroke-width="1.0" fill="none" vector-effect="non-scaling-stroke" style="vector-effect:non-scaling-stroke"><path vector-effect="non-scaling-stroke" d="M0.3,2.6 C0.5,-0.8 5.7,-0.8 5.7,2.8 C5.7,5 1,8 0.3,10 H6"/></g><g transform="translate(222.90,716.50) scale(0.0833,0.6000)" stroke="#f02828" stroke-width="1.0" fill="none" vector-effect="non-scaling-stroke" style="vector-effect:non-scaling-stroke"><path vector-effect="non-scaling-stroke" d="M1.6,9.2 L0.8,11.4"/></g><g transform="translate(226.10,716.50) scale(0.5667,0.6000)" stroke="#f02828" stroke-width="1.0" fill="none" vector-effect="non-scaling-stroke" style="vector-effect:non-scaling-stroke"><path vector-effect="non-scaling-stroke" d="M5.6,0 H1 L0.6,4.6 C1.4,4 2.2,3.8 3,3.8 C6.3,3.8 6.3,10 3,10 C1.6,10 0.7,9.4 0.3,8.6"/></g>
<g transform="translate(217.30,41.50) scale(0.7000,0.8000)" stroke="#181818" stroke-width="1.0" fill="none" vector-effect="non-scaling-stroke" style="vector-effect:non-scaling-stroke"><path vector-effect="non-scaling-stroke" d="M0.3,2.6 C0.5,-0.8 5.7,-0.8 5.7,2.8 C5.7,5 1,8 0.3,10 H6"/></g><g transform="translate(223.50,41.50) scale(0.7667,0.8000)" stroke="#181818" stroke-width="1.0" fill="none" vector-effect="non-scaling-stroke" style="vector-effect:non-scaling-stroke"><path vector-effect="non-scaling-stroke" d="M3,0 C5.4,0 6,1.6 6,3.2 V6.8 C6,8.4 5.4,10 3,10 C0.6,10 0,8.4 0,6.8 V3.2 C0,1.6 0.6,0 3,0 Z"/></g><g transform="translate(230.10,41.50) scale(0.6333,0.8000)" stroke="#181818" stroke-width="1.0" fill="none" vector-effect="non-scaling-stroke" style="vector-effect:non-scaling-stroke"><path vector-effect="non-scaling-stroke" d="M4,0 V10"/><path vector-effect="non-scaling-stroke" d="M4,0 L1.2,2"/></g>
<g transform="translate(293.00,41.50) scale(0.7667,0.8000)" stroke="#181818" stroke-width="1.0" fill="none" vector-effect="non-scaling-stroke" style="vector-effect:non-scaling-stroke"><path vector-effect="non-scaling-stroke" d="M0.3,2.6 C0.5,-0.8 5.7,-0.8 5.7,2.8 C5.7,5 1,8 0.3,10 H6"/></g><g transform="translate(299.10,41.50) scale(0.7667,0.8000)" stroke="#181818" stroke-width="1.0" fill="none" vector-effect="non-scaling-stroke" style="vector-effect:non-scaling-stroke"><path vector-effect="non-scaling-stroke" d="M3,0 C5.4,0 6,1.6 6,3.2 V6.8 C6,8.4 5.4,10 3,10 C0.6,10 0,8.4 0,6.8 V3.2 C0,1.6 0.6,0 3,0 Z"/></g><g transform="translate(305.60,41.50) scale(0.7500,0.8000)" stroke="#181818" stroke-width="1.0" fill="none" vector-effect="non-scaling-stroke" style="vector-effect:non-scaling-stroke"><path vector-effect="non-scaling-stroke" d="M0.3,2.6 C0.5,-0.8 5.7,-0.8 5.7,2.8 C5.7,5 1,8 0.3,10 H6"/></g>
<g transform="translate(123.00,230.50) scale(0.8750,0.8000)" stroke="#181818" stroke-width="1.0" fill="none" vector-effect="non-scaling-stroke" style="vector-effect:non-scaling-stroke"><path vector-effect="non-scaling-stroke" d="M0.3,2.6 C0.5,-0.8 5.7,-0.8 5.7,2.8 C5.7,5 1,8 0.3,10 H6"/></g><g transform="translate(129.90,230.50) scale(0.8667,0.8000)" stroke="#181818" stroke-width="1.0" fill="none" vector-effect="non-scaling-stroke" style="vector-effect:non-scaling-stroke"><path vector-effect="non-scaling-stroke" d="M3,0 C5.4,0 6,1.6 6,3.2 V6.8 C6,8.4 5.4,10 3,10 C0.6,10 0,8.4 0,6.8 V3.2 C0,1.6 0.6,0 3,0 Z"/></g><g transform="translate(136.75,230.50) scale(0.7750,0.8000)" stroke="#181818" stroke-width="1.0" fill="none" vector-effect="non-scaling-stroke" style="vector-effect:non-scaling-stroke"><path vector-effect="non-scaling-stroke" d="M0.4,1.8 C1.4,-0.7 5.6,-0.6 5.6,2.5 C5.6,4.6 3.8,4.8 2.4,4.8"/><path vector-effect="non-scaling-stroke" d="M2.4,4.8 C4.6,4.8 6,5.8 6,7.4 C6,10.6 1.2,10.8 0.3,8.4"/></g><g transform="translate(143.00,230.50) scale(0.6667,0.8000)" stroke="#181818" stroke-width="1.0" fill="none" vector-effect="non-scaling-stroke" style="vector-effect:non-scaling-stroke"><path vector-effect="non-scaling-stroke" d="M0.6,10 V0 H3.8 C6.2,0 6.2,5 3.8,5 H0.6"/></g><g transform="translate(148.60,230.50) scale(0.6667,0.8000)" stroke="#181818" stroke-width="1.0" fill="none" vector-effect="non-scaling-stroke" style="vector-effect:non-scaling-stroke"><path vector-effect="non-scaling-stroke" d="M6,0 H0.6 V10 H6"/><path vector-effect="non-scaling-stroke" d="M0.6,5 H5"/></g>
<g transform="translate(217.50,570.50) scale(0.7000,0.8000)" stroke="#181818" stroke-width="1.0" fill="none" vector-effect="non-scaling-stroke" style="vector-effect:non-scaling-stroke"><path vector-effect="non-scaling-stroke" d="M0.4,1.8 C1.4,-0.7 5.6,-0.6 5.6,2.5 C5.6,4.6 3.8,4.8 2.4,4.8"/><path vector-effect="non-scaling-stroke" d="M2.4,4.8 C4.6,4.8 6,5.8 6,7.4 C6,10.6 1.2,10.8 0.3,8.4"/></g><g transform="translate(223.30,570.50) scale(0.7500,0.8000)" stroke="#181818" stroke-width="1.0" fill="none" vector-effect="non-scaling-stroke" style="vector-effect:non-scaling-stroke"><path vector-effect="non-scaling-stroke" d="M3,0 C5.4,0 6,1.6 6,3.2 V6.8 C6,8.4 5.4,10 3,10 C0.6,10 0,8.4 0,6.8 V3.2 C0,1.6 0.6,0 3,0 Z"/></g><g transform="translate(229.50,570.50) scale(0.8333,0.8000)" stroke="#181818" stroke-width="1.0" fill="none" vector-effect="non-scaling-stroke" style="vector-effect:non-scaling-stroke"><path vector-effect="non-scaling-stroke" d="M0,0 H6 L2.4,10"/></g>
</svg></body></html>
